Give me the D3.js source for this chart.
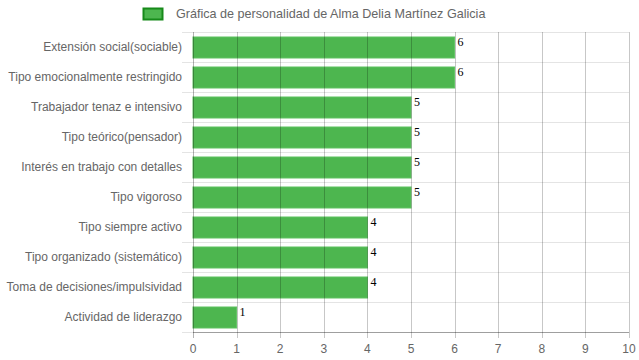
<!DOCTYPE html>
<html>
  <head>
    <meta charset="utf-8">
    <title>Gráfica de personalidad</title>
    <script src="https://d3js.org/d3.v7.min.js"></script>
    <style>
      body { margin: 0; background: #fff; }
      svg { font-family: 'Liberation Sans', Arial, sans-serif; }
      .tick text { fill: #666; font-size: 12px; }
    </style>
  </head>
  <body>
    <div id="chart"></div>
    <script>
    // data
    var categories = [
        "Extensión social(sociable)",
        "Tipo emocionalmente restringido",
        "Trabajador tenaz e intensivo",
        "Tipo teórico(pensador)",
        "Interés en trabajo con detalles",
        "Tipo vigoroso",
        "Tipo siempre activo",
        "Tipo organizado (sistemático)",
        "Toma de decisiones/impulsividad",
        "Actividad de liderazgo"
    ];
    var values = [6, 6, 5, 5, 5, 5, 4, 4, 4, 1];
    var xTicks = [0, 1, 2, 3, 4, 5, 6, 7, 8, 9, 10];
    var legendLabel = "Gráfica de personalidad de Alma Delia Martínez Galicia";

    var width = 639,
        height = 360,
        margin = { top: 32, right: 10, bottom: 28, left: 193 };

    var svg = d3.select("#chart").append("svg")
        .attr("width", width).attr("height", height);

    var xScale = d3.scaleLinear().domain([0, 10]).range([margin.left, width - margin.right]);
    var yScale = d3.scaleBand().domain(categories)
        .range([margin.top, height - margin.bottom])
        .paddingInner(0.3).paddingOuter(0.15);

    var plotBottom = height - margin.bottom;
    var step = yScale.step();

    // horizontal grid lines (between categories)
    var hLines = d3.range(categories.length + 1).map(i => margin.top + i * step);
    svg.append("g").selectAll("line")
        .data(hLines).enter().append("line")
        .attr("x1", margin.left - 11).attr("x2", xScale(10))
        .attr("y1", d => Math.round(d) + 0.5).attr("y2", d => Math.round(d) + 0.5)
        .attr("stroke", "#e4e4e4");

    // bars
    svg.append("g").selectAll("rect")
        .data(values).enter().append("rect")
        .attr("x", xScale(0))
        .attr("y", (d, i) => Math.round(yScale(categories[i])))
        .attr("width", d => xScale(d) - xScale(0))
        .attr("height", Math.round(yScale.bandwidth()))
        .attr("fill", "#4db64f")
        .attr("stroke", "#5fc261")
        .attr("stroke-width", 1);

    // vertical grid lines drawn over bars
    svg.append("g").selectAll("line")
        .data(xTicks).enter().append("line")
        .attr("x1", d => Math.round(xScale(d)) + 0.5).attr("x2", d => Math.round(xScale(d)) + 0.5)
        .attr("y1", margin.top).attr("y2", plotBottom + 6)
        .attr("stroke", d => d === 0 ? "rgba(0,0,0,0.3)" : "rgba(0,0,0,0.22)");

    // bottom axis line
    svg.append("line")
        .attr("x1", xScale(0)).attr("x2", xScale(10))
        .attr("y1", plotBottom + 0.5).attr("y2", plotBottom + 0.5)
        .attr("stroke", "rgba(0,0,0,0.3)");

    // x tick labels
    svg.append("g").selectAll("text")
        .data(xTicks).enter().append("text")
        .attr("x", d => xScale(d))
        .attr("y", plotBottom + 21)
        .attr("text-anchor", "middle")
        .attr("fill", "#666")
        .style("font-size", "12px")
        .text(d => d);

    // category labels
    svg.append("g").selectAll("text")
        .data(categories).enter().append("text")
        .attr("x", margin.left - 11)
        .attr("y", d => yScale(d) + yScale.bandwidth() / 2 + 4)
        .attr("text-anchor", "end")
        .attr("fill", "#666")
        .style("font-size", "12px")
        .text(d => d);

    // value labels
    svg.append("g").selectAll("text")
        .data(values).enter().append("text")
        .attr("x", d => xScale(d) + 3)
        .attr("y", (d, i) => yScale(categories[i]) + 9)
        .attr("fill", "#000")
        .style("font-family", "'Liberation Serif', 'Times New Roman', serif")
        .style("font-size", "12px")
        .text(d => d);

    // legend
    var legend = svg.append("g").attr("transform", "translate(143,8)");
    legend.append("rect")
        .attr("x", 0.5).attr("y", 0.5)
        .attr("width", 19).attr("height", 11)
        .attr("fill", "#4db64f")
        .attr("stroke", "#178a1a")
        .attr("stroke-width", 2);
    legend.append("text")
        .attr("x", 33).attr("y", 10)
        .attr("fill", "#666")
        .style("font-size", "12.6px")
        .text(legendLabel);
    </script>
  </body>
</html>
